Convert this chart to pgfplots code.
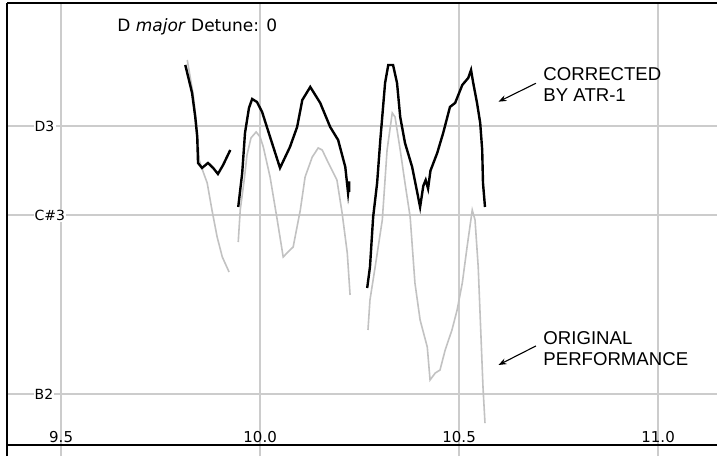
\documentclass[border=0pt]{standalone}
\usepackage{pgfplots}
\pgfplotsset{compat=1.18}
\usepackage{fontspec}
\setmainfont{Liberation Sans}
\newfontfamily\pixfont{DejaVu Sans}
\usetikzlibrary{arrows.meta}
\definecolor{gridc}{gray}{0.80}
\definecolor{orig}{gray}{0.76}
\definecolor{baseline}{gray}{0.55}
\tikzset{
  xlab/.style={font=\pixfont\fontsize{7.5}{9}\selectfont, anchor=base, inner sep=0pt},
  ylab/.style={font=\pixfont\fontsize{7}{9}\selectfont, anchor=west, fill=white, inner sep=0.6pt},
  note/.style={font=\fontsize{9.3}{10.5}\selectfont, anchor=base west, inner sep=0pt},
}
\begin{document}
\begin{tikzpicture}
\begin{axis}[
    scale only axis,
    width=355pt, height=226.5pt,
    xmin=9.364, xmax=11.148,
    ymin=-0.694, ymax=4.378,
    axis line style={draw=none},
    xtick={9.5,10,10.5,11}, ytick={0,2,3},
    xticklabels={}, yticklabels={},
    major tick length=0pt,
    grid=major,
    grid style={gridc, line width=1pt},
    clip=false,
]
% original performance (light grey)
\addplot[orig, line width=0.8pt] coordinates {
(9.817,3.740) (9.832,3.348) (9.842,2.956) (9.847,2.620) (9.857,2.486) (9.867,2.363)
(9.879,2.060) (9.892,1.758) (9.905,1.534) (9.922,1.366)};
\addplot[orig, line width=0.8pt] coordinates {
(9.945,1.702) (9.950,2.060) (9.960,2.396) (9.967,2.676) (9.977,2.867) (9.990,2.934)
(10.000,2.878) (10.008,2.766) (10.025,2.430) (10.043,1.949) (10.058,1.534) (10.070,1.590)
(10.083,1.646) (10.101,2.060) (10.113,2.430) (10.131,2.654) (10.146,2.755) (10.156,2.732)
(10.168,2.620) (10.193,2.396) (10.206,2.027) (10.219,1.579) (10.226,1.109)};
\addplot[orig, line width=0.8pt] coordinates {
(10.271,0.717) (10.276,1.053) (10.289,1.422) (10.307,1.949) (10.319,2.732) (10.332,3.147)
(10.339,3.102) (10.352,2.732) (10.364,2.363) (10.377,1.982) (10.389,1.243) (10.402,0.829)
(10.420,0.526) (10.427,0.157) (10.440,0.235) (10.452,0.269) (10.465,0.493) (10.482,0.717)
(10.495,0.941) (10.508,1.243) (10.520,1.646) (10.533,2.060) (10.540,1.949) (10.548,1.422)
(10.553,0.862) (10.560,0.078) (10.565,-0.325)};
% corrected by ATR-1 (black)
\addplot[black, line width=1.2pt] coordinates {
(9.812,3.684) (9.829,3.371) (9.837,3.102) (9.842,2.878) (9.844,2.587) (9.854,2.531)
(9.869,2.587) (9.882,2.531) (9.894,2.464) (9.907,2.564) (9.925,2.732)};
\addplot[black, line width=1.2pt] coordinates {
(9.945,2.094) (9.955,2.475) (9.962,2.923) (9.972,3.203) (9.980,3.303) (9.992,3.270)
(10.005,3.158) (10.025,2.878) (10.050,2.531) (10.075,2.766) (10.093,2.990) (10.106,3.292)
(10.126,3.438) (10.151,3.259) (10.176,2.990) (10.196,2.844) (10.214,2.542) (10.221,2.251)
(10.224,2.380) (10.224,2.262)};
\addplot[black, line width=1.2pt] coordinates {
(10.269,1.187) (10.276,1.422) (10.284,1.982) (10.294,2.363) (10.302,2.844) (10.314,3.483)
(10.322,3.684) (10.334,3.684) (10.344,3.483) (10.352,3.102) (10.364,2.811) (10.382,2.542)
(10.397,2.206) (10.402,2.094) (10.410,2.330) (10.416,2.396) (10.422,2.300) (10.428,2.500)
(10.445,2.699) (10.460,2.923) (10.477,3.214) (10.490,3.259) (10.508,3.460) (10.523,3.539)
(10.530,3.628) (10.535,3.494) (10.545,3.259) (10.553,3.035) (10.558,2.732) (10.560,2.363)
(10.565,2.094)};
% frame
\draw[black, line width=1pt] (rel axis cs:0,0) -- (rel axis cs:0,1);
\draw[black, line width=0.8pt] (rel axis cs:0,1) -- (rel axis cs:1,1);
\draw[baseline, line width=0.8pt] (axis cs:9.364,-0.571) -- (axis cs:11.148,-0.571);
% tick labels
\node[xlab] at (axis cs:9.5,-0.538) {9.5};
\node[xlab] at (axis cs:10,-0.538) {10.0};
\node[xlab] at (axis cs:10.5,-0.538) {10.5};
\node[xlab] at (axis cs:11,-0.538) {11.0};
\node[ylab] at (axis cs:9.4296,3) {D3};
\node[ylab] at (axis cs:9.4296,2) {C\#3};
\node[ylab] at (axis cs:9.4296,0) {B2};
\node[font=\pixfont\fontsize{8.5}{10}\selectfont] at (axis cs:9.842,4.110) {D \textit{major} Detune: 0};
% annotations
\node[note] at (axis cs:10.711,3.505) {CORRECTED};
\node[note] at (axis cs:10.711,3.270) {BY ATR-1};
\node[note] at (axis cs:10.711,0.560) {ORIGINAL};
\node[note] at (axis cs:10.711,0.314) {PERFORMANCE};
\draw[line width=0.55pt, -{Stealth[length=4pt,width=3pt]}] (axis cs:10.693,3.479) -- (axis cs:10.599,3.273);
\draw[line width=0.55pt, -{Stealth[length=4pt,width=3pt]}] (axis cs:10.693,0.538) -- (axis cs:10.599,0.325);
\end{axis}
\pgfresetboundingbox
\path ([xshift=-3.5pt]current axis.south west) rectangle ([yshift=1.5pt]current axis.north east);
\end{tikzpicture}
\end{document}
